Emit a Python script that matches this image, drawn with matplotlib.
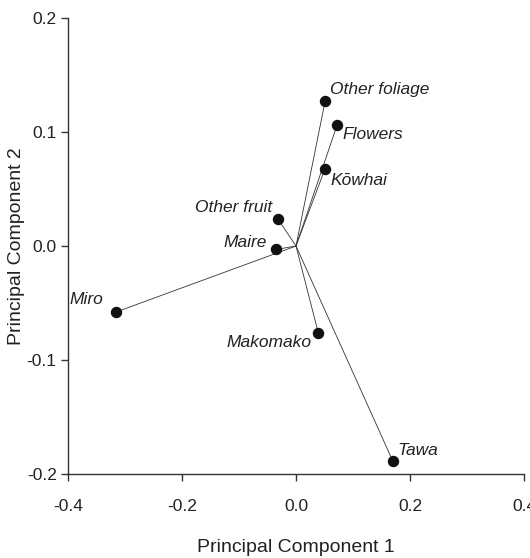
import matplotlib
matplotlib.use("Agg")
import matplotlib.pyplot as plt

plt.rcParams['font.family'] = ['Liberation Sans', 'DejaVu Sans']

# PCA loadings (component 1, component 2)
names = ["Other foliage", "Flowers", "K\u014dwhai", "Other fruit", "Maire",
         "Miro", "Makomako", "Tawa"]
pc1 = [0.051, 0.072, 0.051, -0.032, -0.035, -0.316, 0.039, 0.170]
pc2 = [0.127, 0.106, 0.068, 0.024, -0.003, -0.058, -0.076, -0.189]

# label offsets in pixels and alignment
offsets = [(5, 12), (5, -9), (5, -12), (-6, 11), (-9, 7), (-13, 13), (-7, -10), (4, 11)]
aligns = ["left", "left", "left", "right", "right", "right", "right", "left"]

fig = plt.figure(figsize=(5.30, 5.58), dpi=100)
ax = fig.add_axes([0.128, 0.1505, 0.861, 0.8172])

for x, y in zip(pc1, pc2):
    ax.plot([0, x], [0, y], color="#333333", lw=0.6, zorder=1)
ax.scatter(pc1, pc2, s=52, color="#111111", zorder=2)

for name, x, y, off, ha in zip(names, pc1, pc2, offsets, aligns):
    ax.annotate(name, (x, y), xytext=off, textcoords="offset pixels",
                ha=ha, va="center", fontsize=12.5, style="italic", color="#222222")

ax.set_xlim(-0.4, 0.4)
ax.set_ylim(-0.2, 0.2)
ax.set_xticks([-0.4, -0.2, 0.0, 0.2, 0.4])
ax.set_yticks([-0.2, -0.1, 0.0, 0.1, 0.2])
ax.xaxis.set_major_formatter(matplotlib.ticker.FormatStrFormatter("%.1f"))
ax.yaxis.set_major_formatter(matplotlib.ticker.FormatStrFormatter("%.1f"))
ax.spines["top"].set_visible(False)
ax.spines["right"].set_visible(False)
for s in ["left", "bottom"]:
    ax.spines[s].set_color("#333333")
    ax.spines[s].set_linewidth(1.0)
ax.tick_params(direction="out", length=5, width=1, color="#333333",
               labelsize=12.5, labelcolor="#222222")
ax.tick_params(axis="x", pad=13)
ax.tick_params(axis="y", pad=3)
ax.set_xlabel("Principal Component 1", fontsize=14, color="#222222", labelpad=18)
ax.set_ylabel("Principal Component 2", fontsize=14, color="#222222", labelpad=1)

fig.savefig("out.png", dpi=100)
